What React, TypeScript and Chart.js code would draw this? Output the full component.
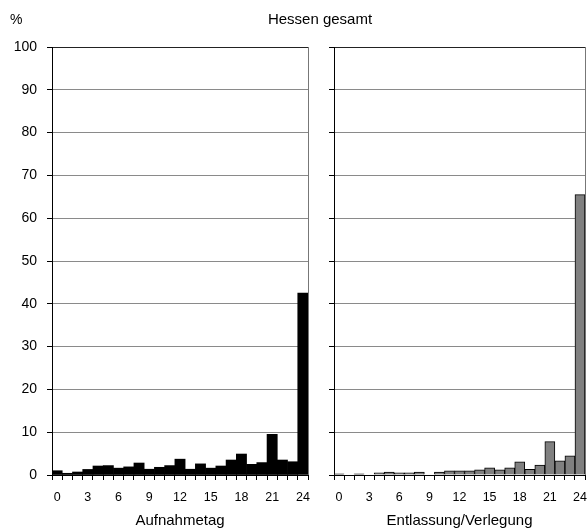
import React, { useEffect, useRef } from "react";
import { Chart, registerables } from "chart.js";

Chart.register(...registerables);

const categories: string[] = Array.from({ length: 25 }, (_, i) => String(i));
const aufnahmeValues: number[] = [1.0, 0.4, 0.7, 1.3, 2.1, 2.2, 1.6, 1.9, 2.8, 1.35, 1.8, 2.2, 3.7, 1.35, 2.6, 1.6, 2.1, 3.5, 4.9, 2.5, 2.9, 9.5, 3.5, 3.1, 42.5];
const entlassungValues: number[] = [0.25, 0, 0.25, 0, 0.5, 0.7, 0.5, 0.5, 0.7, 0, 0.7, 0.95, 0.95, 0.95, 1.2, 1.65, 1.2, 1.65, 3.1, 1.3, 2.3, 7.8, 3.3, 4.5, 65.5];
const yTicks: number[] = [0, 10, 20, 30, 40, 50, 60, 70, 80, 90, 100];
const titleText = "Hessen gesamt";
const yUnit = "%";
const leftAxisTitle = "Aufnahmetag";
const rightAxisTitle = "Entlassung/Verlegung";

const FONT = "'Liberation Sans', Arial, sans-serif";

const frameRightPlugin = {
  id: "frameRight",
  afterDatasetsDraw(chart: any) {
    const { ctx, chartArea } = chart;
    ctx.save();
    ctx.strokeStyle = "#777";
    ctx.lineWidth = 1;
    ctx.beginPath();
    ctx.moveTo(Math.round(chartArea.right) + 0.5, chartArea.top);
    ctx.lineTo(Math.round(chartArea.right) + 0.5, chartArea.bottom);
    ctx.stroke();
    ctx.restore();
  },
};

function makeConfig(values: number[], fill: string, border: string, borderWidth: number, axisTitle: string, showYLabels: boolean, yWidth: number, padRight: number): any {
  return {
    type: "bar",
    data: {
      labels: categories,
      datasets: [
        {
          data: values,
          backgroundColor: fill,
          borderColor: border,
          borderWidth: borderWidth,
          categoryPercentage: 1.0,
          barPercentage: 1.0,
        },
      ],
    },
    plugins: [frameRightPlugin],
    options: {
      responsive: false,
      animation: false,
      layout: { padding: { left: 0, right: padRight, top: 47, bottom: 0 } },
      plugins: { legend: { display: false }, tooltip: { enabled: false }, title: { display: false } },
      scales: {
        x: {
          type: "category",
          offset: true,
          grid: { display: true, drawOnChartArea: false, offset: true, tickLength: 5, tickColor: "#000", color: "#000" },
          border: { display: true, color: "#000", width: 1 },
          ticks: {
            autoSkip: false,
            maxRotation: 0,
            minRotation: 0,
            padding: 10,
            color: "#000",
            font: { family: FONT, size: 12.5 },
            callback: (_v: any, idx: number) => (idx % 3 === 0 ? categories[idx] : ""),
          },
          title: { display: true, text: axisTitle, color: "#000", font: { family: FONT, size: 15 }, padding: { top: 4, bottom: 2 } },
          afterFit: (scale: any) => {
            scale.height = 57;
            scale.paddingLeft = 0;
            scale.paddingRight = 0;
          },
        },
        y: {
          min: 0,
          max: 100,
          afterBuildTicks: (scale: any) => {
            scale.ticks = yTicks.map((v) => ({ value: v }));
          },
          grid: {
            display: true,
            drawOnChartArea: true,
            tickLength: 5,
            tickColor: "#000",
            color: (c: any) => (c.tick && c.tick.value === 100 ? "#222" : c.tick && c.tick.value === 0 ? "rgba(0,0,0,0)" : "#8a8a8a"),
          },
          border: { display: true, color: "#000", width: 1 },
          ticks: {
            padding: 10,
            color: "#000",
            font: { family: FONT, size: 14 },
            callback: (v: any) => (showYLabels ? String(v) : ""),
          },
          afterFit: (scale: any) => {
            scale.width = yWidth;
            scale.paddingTop = 0;
            scale.paddingBottom = 0;
          },
        },
      },
    },
  };
}

export default function App() {
  const leftRef = useRef<HTMLCanvasElement>(null);
  const rightRef = useRef<HTMLCanvasElement>(null);

  useEffect(() => {
    const c1 = new Chart(leftRef.current as HTMLCanvasElement, makeConfig(aufnahmeValues, "#000000", "#000000", 0, leftAxisTitle, true, 52, 6));
    const c2 = new Chart(rightRef.current as HTMLCanvasElement, makeConfig(entlassungValues, "#808080", "#000000", 1, rightAxisTitle, false, 14, 2));
    return () => {
      c1.destroy();
      c2.destroy();
    };
  }, []);

  return (
    <div style={{ position: "absolute", left: 0, top: 0, width: 587, height: 532, background: "#fff", fontFamily: FONT }}>
      <canvas ref={leftRef} width={314} height={532} style={{ position: "absolute", left: 0, top: 0, width: 314, height: 532 }} />
      <canvas ref={rightRef} width={267} height={532} style={{ position: "absolute", left: 320, top: 0, width: 267, height: 532 }} />
      <div style={{ position: "absolute", left: 0, width: 640, top: 10, textAlign: "center", fontSize: 15, color: "#000" }}>{titleText}</div>
      <div style={{ position: "absolute", left: 10, top: 11, fontSize: 14, color: "#000" }}>{yUnit}</div>
    </div>
  );
}
